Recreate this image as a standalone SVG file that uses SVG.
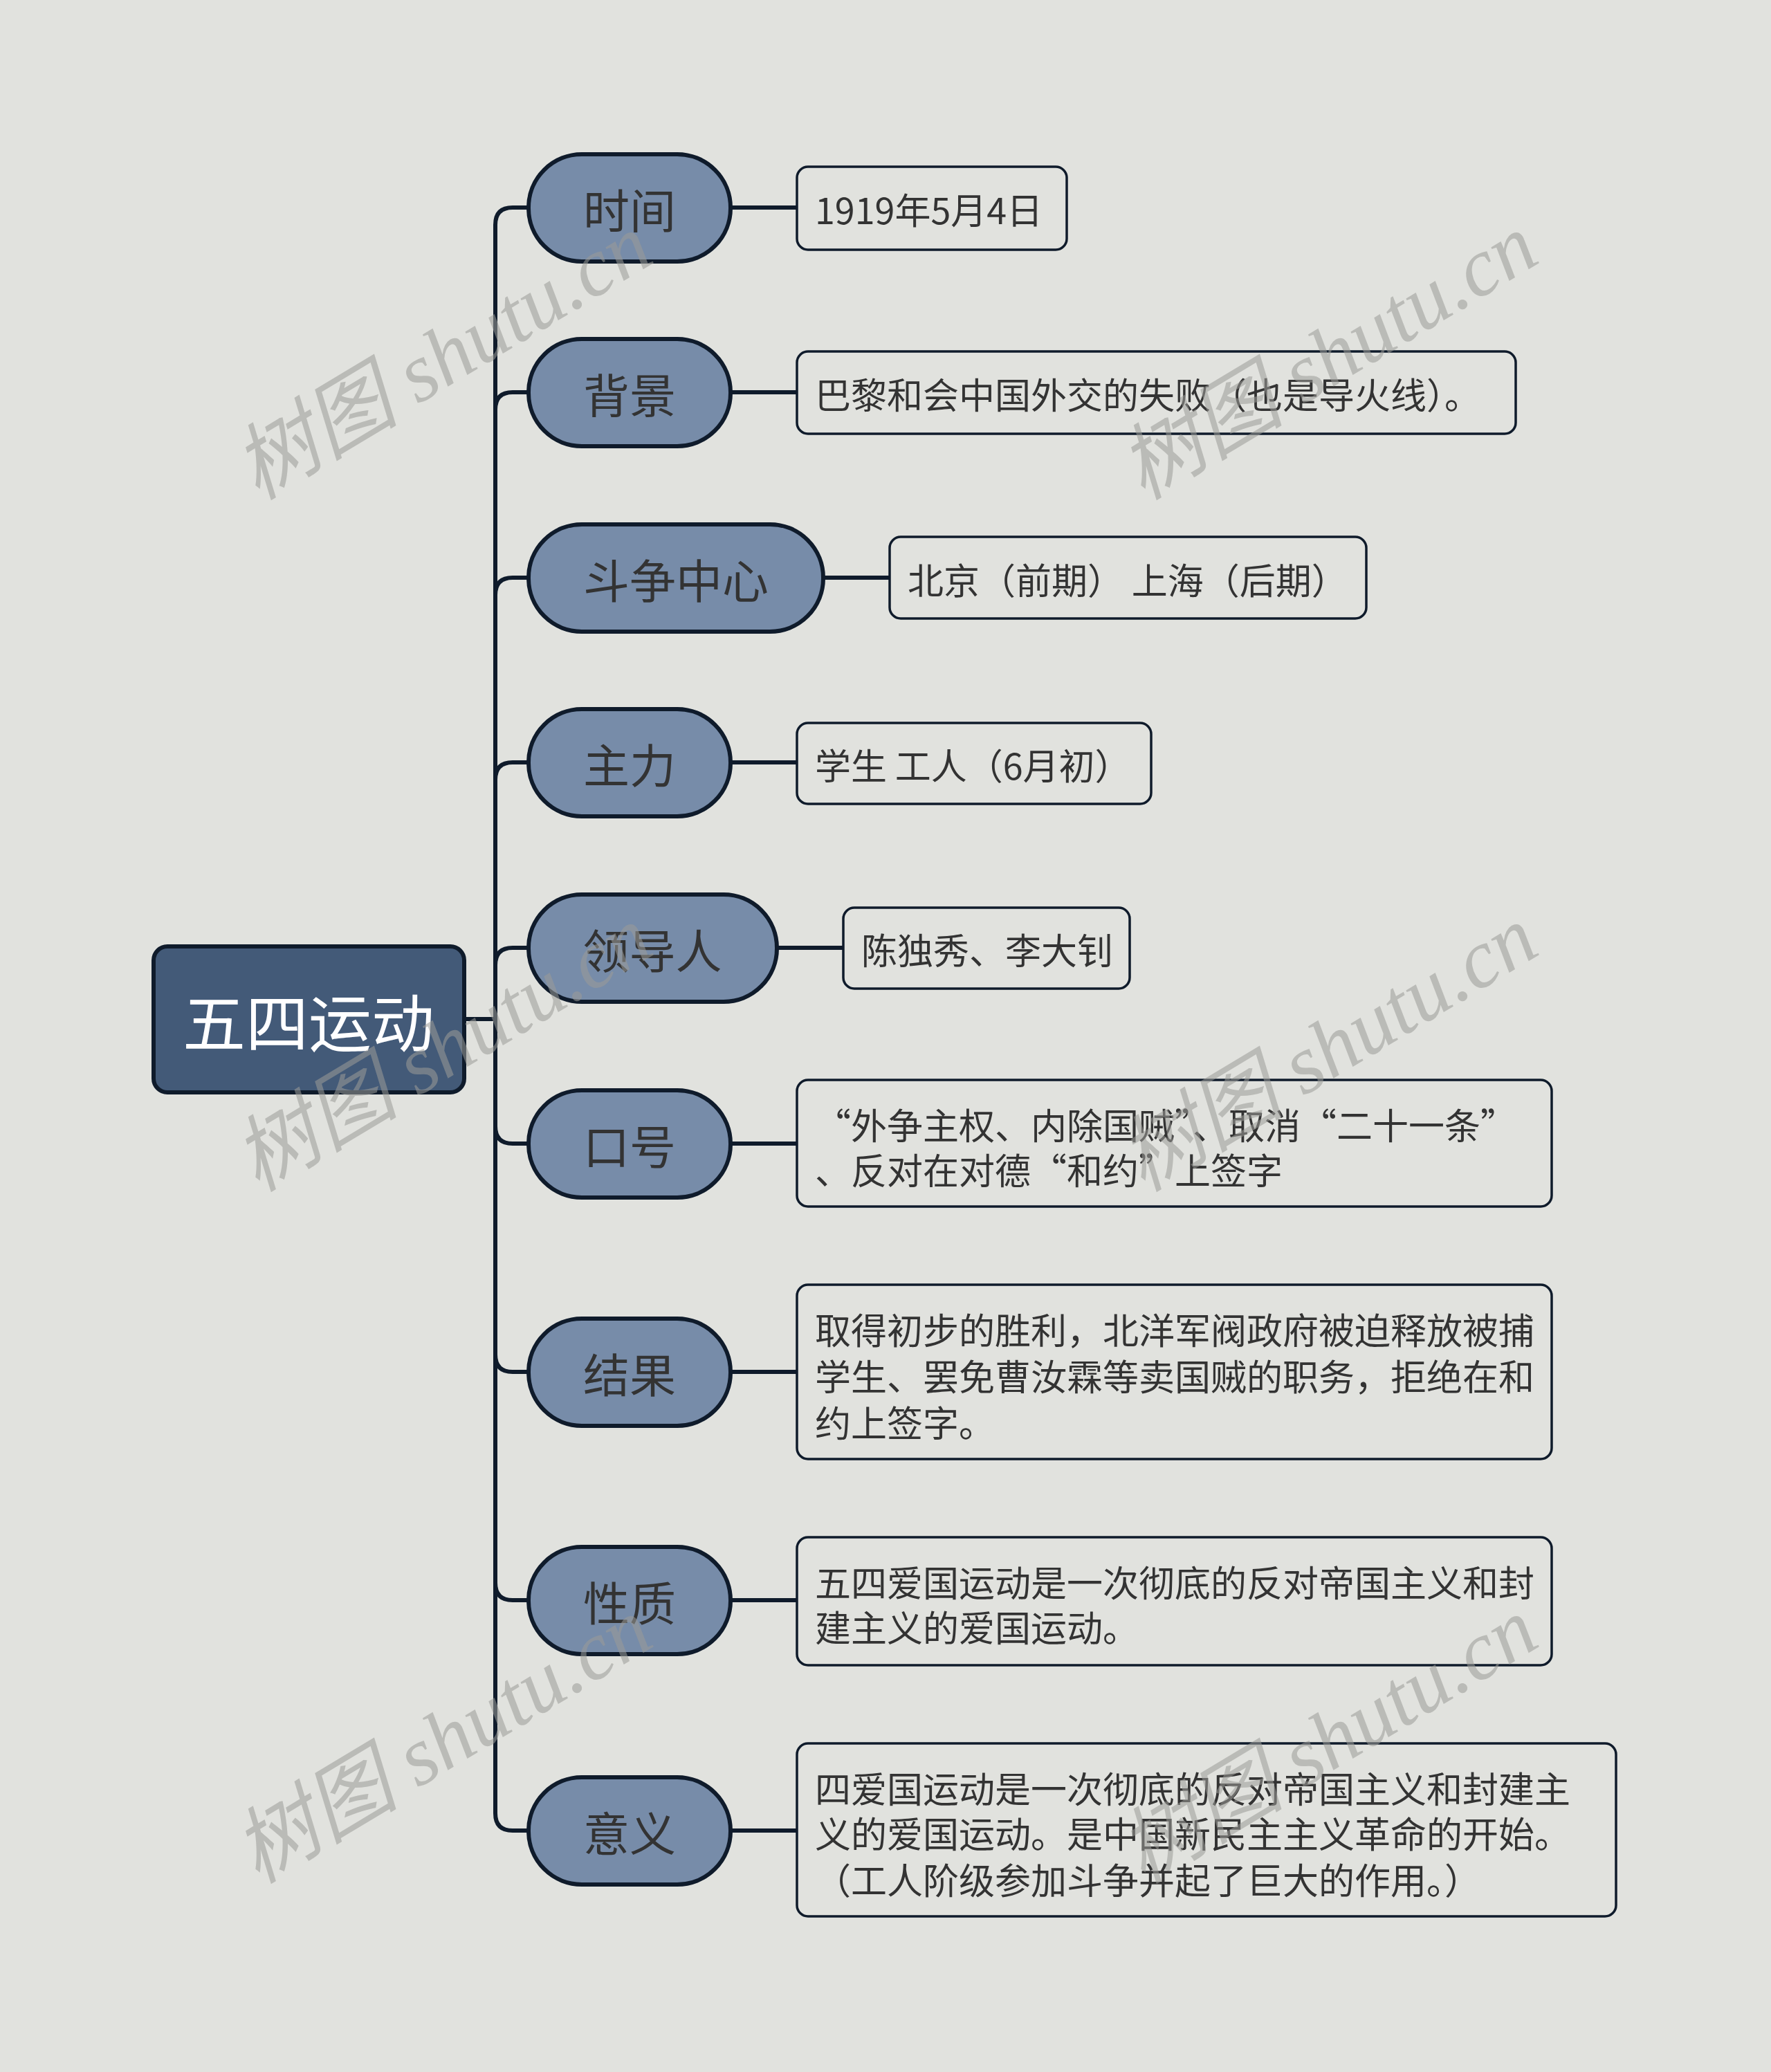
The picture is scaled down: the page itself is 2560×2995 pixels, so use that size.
<svg xmlns="http://www.w3.org/2000/svg" width="2560" height="2995" viewBox="0 0 2560 2995">
<style>
.bg{fill:#e1e2de}
.root{fill:#435a78;stroke:#0f1b2b;stroke-width:6}
.br{fill:#778ca9;stroke:#0f1b2b;stroke-width:6}
.leaf{fill:#e1e2de;stroke:#0f1b2b;stroke-width:3.5}
.rt{font-family:"Noto Sans CJK SC","Noto Sans",sans-serif;font-size:91px;fill:#ffffff;text-anchor:middle;dominant-baseline:central}
.bt{font-family:"Noto Sans CJK SC","Noto Sans",sans-serif;font-size:67px;fill:#333333;text-anchor:middle;dominant-baseline:central}
.lt{font-family:"Noto Sans CJK SC","Noto Sans",sans-serif;font-size:52px;fill:#333333;dominant-baseline:central}
.conn path{fill:none;stroke:#0f1b2b;stroke-width:6}
.wm{font-family:"Liberation Serif","Noto Sans CJK SC",serif;font-style:italic;font-size:120px;fill:#9c9c98;opacity:0.55;text-anchor:middle;dominant-baseline:central}
</style>
<rect class="bg" x="0" y="0" width="2560" height="2995"/>
<g id="connectors" class="conn">
<path d="M671,1473 L716,1473"/>
<path d="M716,1473 L716,325 Q716,300 741,300 L764,300"/>
<path d="M716,1473 L716,592 Q716,567 741,567 L764,567"/>
<path d="M716,1473 L716,860 Q716,835 741,835 L764,835"/>
<path d="M716,1473 L716,1127 Q716,1102 741,1102 L764,1102"/>
<path d="M716,1473 L716,1395 Q716,1370 741,1370 L764,1370"/>
<path d="M716,1473 L716,1628 Q716,1653 741,1653 L764,1653"/>
<path d="M716,1473 L716,1958 Q716,1983 741,1983 L764,1983"/>
<path d="M716,1473 L716,2288 Q716,2313 741,2313 L764,2313"/>
<path d="M716,1473 L716,2621 Q716,2646 741,2646 L764,2646"/>
<path d="M1056,300 L1152,300"/>
<path d="M1056,567 L1152,567"/>
<path d="M1190,835 L1286,835"/>
<path d="M1056,1102 L1152,1102"/>
<path d="M1123,1370 L1219,1370"/>
<path d="M1056,1653 L1152,1653"/>
<path d="M1056,1983 L1152,1983"/>
<path d="M1056,2313 L1152,2313"/>
<path d="M1056,2646 L1152,2646"/>
</g>
<g id="root">
<rect class="root" x="222" y="1368" width="449" height="211" rx="20"/>
<text class="rt" x="446" y="1473">五四运动</text>
</g>
<g id="n-shijian">
<rect class="br" x="764" y="223" width="292" height="155" rx="77"/>
<text class="bt" x="910" y="300">时间</text>
</g>
<g id="n-beijing">
<rect class="br" x="764" y="490" width="292" height="155" rx="77"/>
<text class="bt" x="910" y="567">背景</text>
</g>
<g id="n-douzheng">
<rect class="br" x="764" y="758" width="426" height="155" rx="77"/>
<text class="bt" x="977" y="835">斗争中心</text>
</g>
<g id="n-zhuli">
<rect class="br" x="764" y="1025" width="292" height="155" rx="77"/>
<text class="bt" x="910" y="1102">主力</text>
</g>
<g id="n-lingdao">
<rect class="br" x="764" y="1293" width="359" height="155" rx="77"/>
<text class="bt" x="943" y="1370">领导人</text>
</g>
<g id="n-kouhao">
<rect class="br" x="764" y="1576" width="292" height="155" rx="77"/>
<text class="bt" x="910" y="1653">口号</text>
</g>
<g id="n-jieguo">
<rect class="br" x="764" y="1906" width="292" height="155" rx="77"/>
<text class="bt" x="910" y="1983">结果</text>
</g>
<g id="n-xingzhi">
<rect class="br" x="764" y="2236" width="292" height="155" rx="77"/>
<text class="bt" x="910" y="2313">性质</text>
</g>
<g id="n-yiyi">
<rect class="br" x="764" y="2569" width="292" height="155" rx="77"/>
<text class="bt" x="910" y="2646">意义</text>
</g>
<g id="l-shijian">
<rect class="leaf" x="1152" y="241" width="390" height="120" rx="16"/>
<text class="lt" x="1178" y="301">1919年5月4日</text>
</g>
<g id="l-beijing">
<rect class="leaf" x="1152" y="508" width="1039" height="119" rx="16"/>
<text class="lt" x="1178" y="568">巴黎和会中国外交的失败（也是导火线）。</text>
</g>
<g id="l-douzheng">
<rect class="leaf" x="1286" y="776" width="689" height="118" rx="16"/>
<text class="lt" x="1312" y="836">北京（前期） 上海（后期）</text>
</g>
<g id="l-zhuli">
<rect class="leaf" x="1152" y="1045" width="512" height="117" rx="16"/>
<text class="lt" x="1178" y="1104">学生 工人（6月初）</text>
</g>
<g id="l-lingdao">
<rect class="leaf" x="1219" y="1312" width="414" height="117" rx="16"/>
<text class="lt" x="1245" y="1371">陈独秀、李大钊</text>
</g>
<g id="l-kouhao">
<rect class="leaf" x="1152" y="1561" width="1091" height="183" rx="16"/>
<text class="lt" x="1178" y="1624">“外争主权、内除国贼”、取消“二十一条”</text>
<text class="lt" x="1178" y="1689">、反对在对德“和约”上签字</text>
</g>
<g id="l-jieguo">
<rect class="leaf" x="1152" y="1857" width="1091" height="252" rx="16"/>
<text class="lt" x="1178" y="1920">取得初步的胜利，北洋军阀政府被迫释放被捕</text>
<text class="lt" x="1178" y="1987">学生、罢免曹汝霖等卖国贼的职务，拒绝在和</text>
<text class="lt" x="1178" y="2054">约上签字。</text>
</g>
<g id="l-xingzhi">
<rect class="leaf" x="1152" y="2222" width="1091" height="185" rx="16"/>
<text class="lt" x="1178" y="2285">五四爱国运动是一次彻底的反对帝国主义和封</text>
<text class="lt" x="1178" y="2350">建主义的爱国运动。</text>
</g>
<g id="l-yiyi">
<rect class="leaf" x="1152" y="2520" width="1184" height="250" rx="16"/>
<text class="lt" x="1178" y="2583">四爱国运动是一次彻底的反对帝国主义和封建主</text>
<text class="lt" x="1178" y="2648">义的爱国运动。是中国新民主主义革命的开始。</text>
<text class="lt" x="1178" y="2715">（工人阶级参加斗争并起了巨大的作用。）</text>
</g>
<g id="watermarks">
<text class="wm" transform="translate(640,516) rotate(-31)">树图 shutu.cn</text>
<text class="wm" transform="translate(1920,516) rotate(-31)">树图 shutu.cn</text>
<text class="wm" transform="translate(640,1516) rotate(-31)">树图 shutu.cn</text>
<text class="wm" transform="translate(1920,1516) rotate(-31)">树图 shutu.cn</text>
<text class="wm" transform="translate(640,2516) rotate(-31)">树图 shutu.cn</text>
<text class="wm" transform="translate(1920,2516) rotate(-31)">树图 shutu.cn</text>
</g>
</svg>
